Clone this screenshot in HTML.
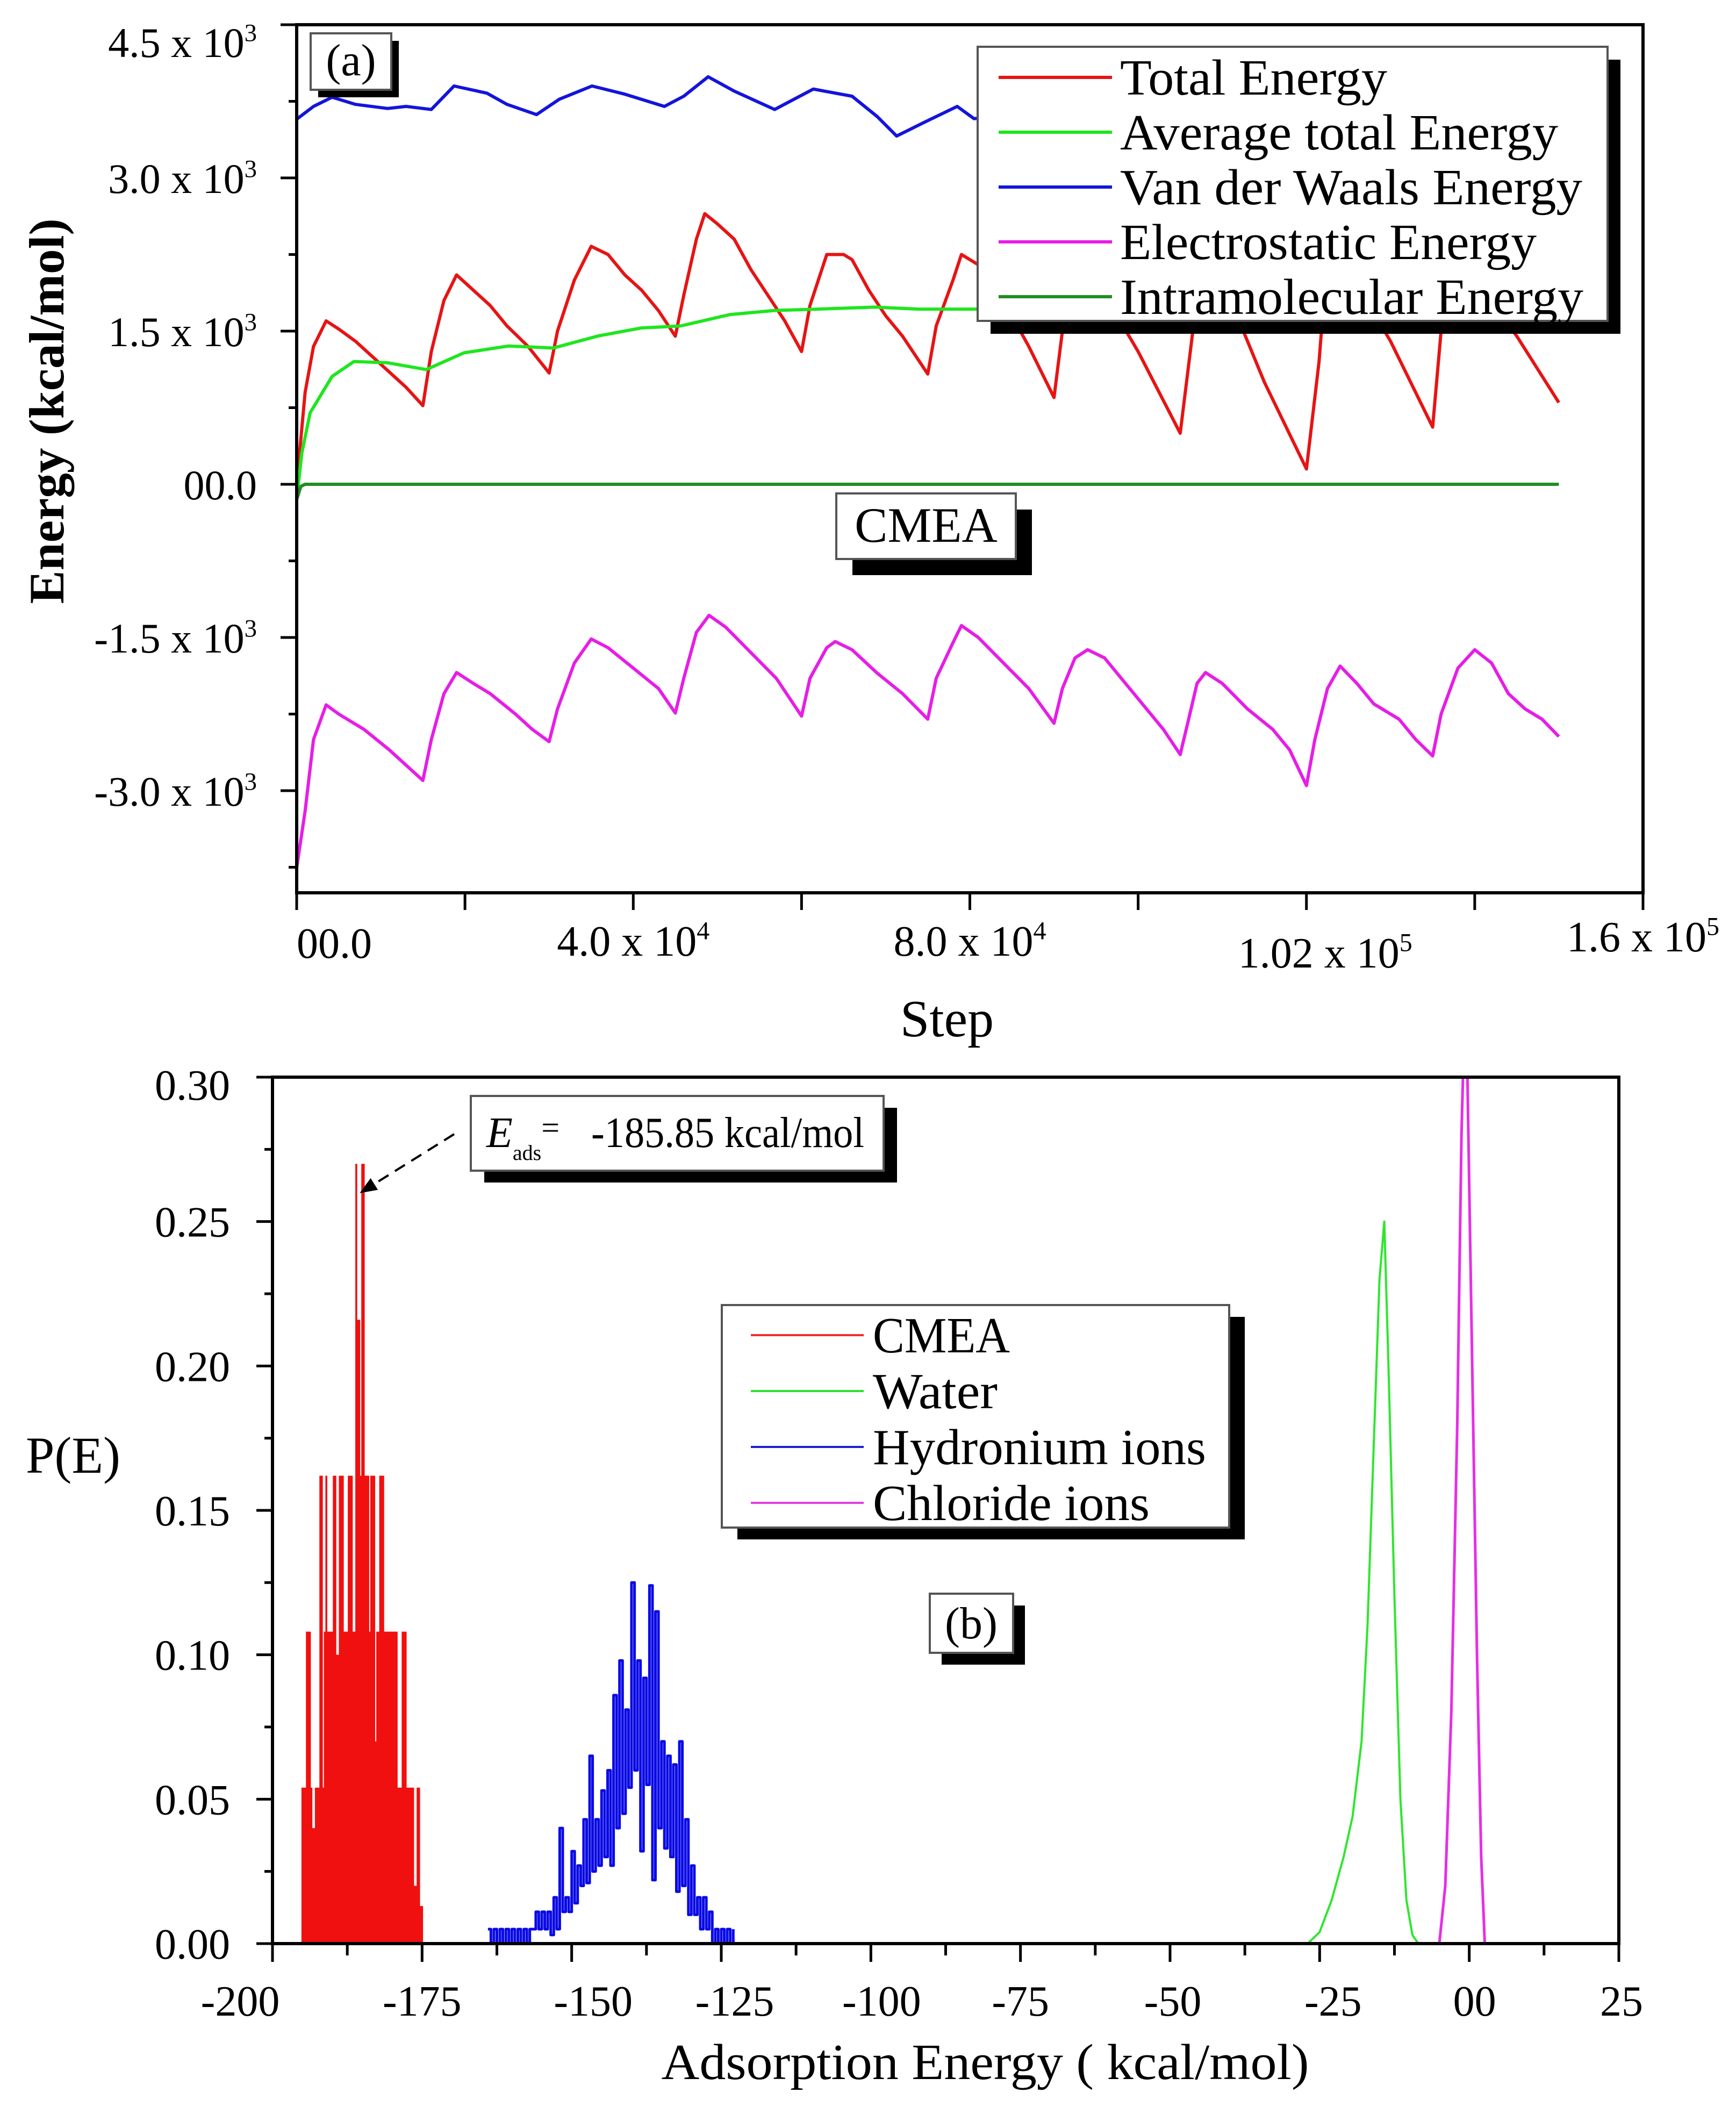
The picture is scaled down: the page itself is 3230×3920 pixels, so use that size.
<!DOCTYPE html>
<html><head><meta charset="utf-8"><style>html,body{margin:0;padding:0;background:#fff}svg{display:block}text{font-family:"Liberation Serif",serif;fill:#000}</style></head>
<body>
<svg id="fig" width="3230" height="3920" viewBox="0 0 3230 3920" xmlns="http://www.w3.org/2000/svg">
<defs>
<clipPath id="clipA"><rect x="552" y="46" width="2505" height="1615"/></clipPath>
<clipPath id="clipB"><rect x="507" y="2004" width="2505" height="1612"/></clipPath>
<marker id="arrowhead" viewBox="0 0 10 10" refX="9" refY="5" markerWidth="8" markerHeight="8" orient="auto"><path d="M0,1 L10,5 L0,9 z" fill="#000"/></marker>
</defs>
<g id="panelA"></g>
<g id="panelB"></g>
</svg>
<script>
// ---------- Panel (a) data (steps in thousands, energy in kcal/mol) ----------
const totalSteps = [0,1,2,3.5,5,7,9,11,13,15,16,17.5,19,21,23,25,27.5,30,31,33,35,37,39,41,43,45,46,47.5,48.5,50,52,54,56,58,60,61,63,65,66,68,70,72,75,76,78,79,81,83,85,87,90,91,92.5,95,100,105,106.5,107.5,110,115,120,121.5,122.5,125,130,135,136,137,140,145,150];
const totalValues = [0,900,1350,1600,1520,1400,1250,1100,950,770,1300,1800,2050,1900,1750,1550,1350,1090,1500,2000,2330,2250,2050,1900,1700,1450,1850,2400,2650,2550,2400,2100,1850,1600,1300,1750,2250,2250,2200,1900,1650,1450,1080,1550,2000,2250,2150,1900,1650,1350,850,1500,2250,2000,1300,500,1500,2300,2000,1000,150,1200,2250,2100,1400,560,1500,2200,2000,1450,800];
const avgSteps = [0,0.6,1.6,4.2,6.8,10.8,15.4,19.9,25.2,30.5,35.8,41,45.6,51.5,56.8,62,68.7,73.9,80.5,95];
const avgValues = [-150,300,700,1056,1202,1190,1123,1288,1354,1334,1452,1531,1550,1662,1702,1715,1735,1715,1715,1720];
const vdwSteps = [0,2,4.2,7,10.8,13,16,18.7,22.6,25,28.5,31.2,35.1,39,43.7,46,48.9,52,56.8,61.4,66,69,71.3,74.6,78.5,80.5,90,110,130,150];
const vdwValues = [3575,3700,3790,3720,3680,3700,3670,3900,3830,3720,3620,3770,3900,3820,3700,3800,3990,3850,3670,3870,3800,3600,3410,3545,3700,3580,3650,3700,3650,3700];
const elecSteps = [0,1,2,3.5,5,8,11,13,15,16,17.5,19,21,23,26,28,30,31,33,35,37,40,43,45,46,47.5,49,51,54,57,60,61,63,64,66,69,72,75,76,78,79,81,84,87,90,91,92.5,94,96,100,103,105,106,107,108,110,113,116,118,120,121,122.5,124,126,128,131,133,135,136,138,140,142,144,146,148,150];
const elecValues = [-3755,-3200,-2500,-2160,-2250,-2400,-2600,-2750,-2900,-2500,-2050,-1843,-1950,-2050,-2250,-2400,-2520,-2200,-1750,-1515,-1600,-1800,-2000,-2240,-1900,-1450,-1283,-1400,-1650,-1900,-2270,-1900,-1600,-1540,-1620,-1850,-2050,-2300,-1900,-1550,-1383,-1500,-1750,-2000,-2340,-2000,-1700,-1620,-1700,-2100,-2400,-2646,-2300,-1950,-1843,-1950,-2200,-2400,-2600,-2950,-2500,-2000,-1780,-1950,-2150,-2300,-2500,-2660,-2250,-1800,-1620,-1750,-2050,-2200,-2300,-2470];
const intraSteps = [0,0.5,1,150];
const intraValues = [-150,-20,0,0];
const aYTicks = [4500,3000,1500,0,-1500,-3000];
const aYTickLabels = [["4.5 x 10","3"],["3.0 x 10","3"],["1.5 x 10","3"],["00.0",""],["-1.5 x 10","3"],["-3.0 x 10","3"]];
const aXTicks = [0,40,80,120,160];
const aXTickLabels = [["00.0",""],["4.0 x 10","4"],["8.0 x 10","4"],["1.02 x 10","5"],["1.6 x 10","5"]];

// ---------- Panel (b) data ----------
const cmeaStart = -195, cmeaStep = 0.25;
const cmeaValues = [.054,.054,.054,.108,.108,.108,.054,.04,.04,.054,.054,.054,.162,.162,.054,.108,.162,.108,.108,.108,.108,.162,.162,.1,.1,.162,.162,.162,.108,.108,.108,.162,.162,.162,.108,.108,.27,.216,.216,.162,.27,.27,.162,.162,.162,.108,.162,.162,.162,.07,.108,.108,.162,.162,.162,.108,.108,.108,.108,.108,.108,.108,.108,.108,.054,.054,.054,.108,.108,.108,.054,.054,.054,.054,.054,.02,.02,.054,.054,.013,.013];
const hydroStart = -164, hydroStep = 0.5;
const hydroValues = [.005,0,.005,0,.005,0,.005,0,.005,0,.005,0,.005,0,.005,.005,.011,.005,.011,.005,.011,.003,.016,.005,.04,.011,.016,.011,.032,.014,.027,.02,.043,.021,.065,.025,.043,.027,.053,.03,.06,.027,.086,.04,.098,.045,.081,.054,.125,.06,.098,.032,.092,.055,.124,.022,.115,.04,.07,.033,.065,.03,.062,.018,.07,.02,.043,.01,.027,.01,.016,.005,.016,.005,.011,0,.005,0,.005,0,.005,0,.005];
const waterX = [-27,-25,-23,-21,-19.5,-18,-17,-16,-15,-14.2,-13.5,-12.5,-11.5,-10.5,-9.5,-8.5];
const waterY = [0,.004,.015,.03,.044,.07,.11,.17,.23,.25,.2,.12,.05,.015,.003,0];
const chlorX = [-5,-4,-3,-2,-1.3,-0.8,-0.3,0.5,1.3,2,2.6];
const chlorY = [0,.02,.08,.18,.28,.32,.30,.2,.1,.03,0];
const bYTicks = [0,0.05,0.1,0.15,0.2,0.25,0.3];
const bYTickLabels = ["0.00","0.05","0.10","0.15","0.20","0.25","0.30"];
const bXTicks = [-200,-175,-150,-125,-100,-75,-50,-25,0,25];
const bXTickLabels = ["-200","-175","-150","-125","-100","-75","-50","-25","00","25"];

const NS = "http://www.w3.org/2000/svg";
function mk(parent, tag, attrs, text) {
  const e = document.createElementNS(NS, tag);
  for (const k in attrs) e.setAttribute(k, attrs[k]);
  if (text !== undefined) e.textContent = text;
  parent.appendChild(e);
  return e;
}
const xA = s => 552 + s / 160 * 2505;
const yA = v => 46 + (4500 - v) / 8500 * 1615;
const xB = e => 507 + (e + 200) / 225 * 2505;
const yB = p => 3616 - p / 0.3 * 1612;

const A = document.getElementById('panelA');
const B = document.getElementById('panelB');

function polyline(parent, xs, ys, fx, fy, color, w, name, clip) {
  const pts = xs.map((x, i) => fx(x).toFixed(1) + ',' + fy(ys[i]).toFixed(1)).join(' ');
  const p = mk(parent, 'polyline', {points: pts, fill: 'none', stroke: color, 'stroke-width': w, 'stroke-linejoin': 'round', 'clip-path': 'url(#' + clip + ')'});
  
  
  return p;
}
function supText(parent, x, y, anchor, parts, size, name) {
  const t = mk(parent, 'text', {x: x, y: y, 'text-anchor': anchor, 'font-size': size});
  
  
  mk(t, 'tspan', {}, parts[0]);
  if (parts[1]) mk(t, 'tspan', {dy: -size * 0.38, 'font-size': size * 0.6}, parts[1]);
  return t;
}
function boxWithShadow(parent, x, y, w, h, dx, dy, name) {
  const g = mk(parent, 'g', {});
  
  
  mk(g, 'rect', {x: x + dx, y: y + dy, width: w, height: h, fill: '#000'});
  mk(g, 'rect', {x: x, y: y, width: w, height: h, fill: '#fff', stroke: '#555', 'stroke-width': 4});
  return g;
}

// ================= Panel (a) =================
polyline(A, vdwSteps, vdwValues, xA, yA, '#1414dc', 6, 'vdw-energy-line', 'clipA');
polyline(A, elecSteps, elecValues, xA, yA, '#e61ee6', 6, 'electrostatic-energy-line', 'clipA');
polyline(A, totalSteps, totalValues, xA, yA, '#e61414', 6, 'total-energy-line', 'clipA');
polyline(A, avgSteps, avgValues, xA, yA, '#1ee61e', 6, 'average-total-energy-line', 'clipA');
polyline(A, intraSteps, intraValues, xA, yA, '#238c23', 6, 'intramolecular-energy-line', 'clipA');
const frA = mk(A, 'rect', {x: 552, y: 46, width: 2505, height: 1615, fill: 'none', stroke: '#000', 'stroke-width': 6});


for (let v = -3750; v <= 4500; v += 750) {
  const major = (v % 1500 === 0);
  mk(A, 'line', {x1: 552, x2: major ? 522 : 537, y1: yA(v), y2: yA(v), stroke: '#000', 'stroke-width': 5});
}
aYTicks.forEach((v, i) => {
  let y = yA(v) + 28;
  if (i === 0) y = 106;
  supText(A, 478, y, 'end', aYTickLabels[i], 78, 'y-tick-label');
});
for (let s = 0; s <= 160; s += 20) {
  mk(A, 'line', {x1: xA(s), x2: xA(s), y1: 1661, y2: 1693, stroke: '#000', 'stroke-width': 5});
}
const aXLabelY = [1782, 1778, 1778, 1800, 1770];
const aXLabelDx = [70, 0, 0, 35, 0];
aXTicks.forEach((s, i) => {
  supText(A, xA(s) + aXLabelDx[i], aXLabelY[i], 'middle', aXTickLabels[i], 80, 'x-tick-label');
});
const yTitle = mk(A, 'text', {x: 0, y: 0, transform: 'translate(118,765) rotate(-90)', 'text-anchor': 'middle', 'font-size': 92, 'font-weight': 'bold', textLength: 717, lengthAdjust: 'spacingAndGlyphs'}, 'Energy (kcal/mol)');


const xTitle = mk(A, 'text', {x: 1762, y: 1928, 'text-anchor': 'middle', 'font-size': 98}, 'Step');


boxWithShadow(A, 578, 62, 150, 105, 14, 14, 'panel-a-label-box');
const la = mk(A, 'text', {x: 653, y: 140, 'text-anchor': 'middle', 'font-size': 84}, '(a)');


boxWithShadow(A, 1556, 918, 334, 122, 30, 30, 'cmea-label-box');
const lc = mk(A, 'text', {x: 1723, y: 1008, 'text-anchor': 'middle', 'font-size': 92}, 'CMEA');


const legA = mk(A, 'g', {});


boxWithShadow(legA, 1819, 87, 1172, 510, 24, 24, 'legend-a-box');
const legANames = ['Total Energy', 'Average total Energy', 'Van der Waals Energy', 'Electrostatic Energy', 'Intramolecular Energy'];
const legAColors = ['#e61414', '#1ee61e', '#1414dc', '#e61ee6', '#238c23'];
const legALen = [497, 815, 860, 775, 862];
legANames.forEach((n, i) => {
  const cy = 144 + i * 102;
  const g = mk(legA, 'g', {});
  
  
  mk(g, 'line', {x1: 1858, x2: 2069, y1: cy, y2: cy, stroke: legAColors[i], 'stroke-width': 6});
  mk(g, 'text', {x: 2084, y: cy + 32, 'font-size': 94, textLength: legALen[i], lengthAdjust: 'spacingAndGlyphs'}, n);
});

// ================= Panel (b) =================
cmeaValues.forEach((v, i) => {
  const e = cmeaStart + i * cmeaStep;
  const l = mk(B, 'line', {x1: xB(e), x2: xB(e), y1: yB(0), y2: yB(v), stroke: '#f01010', 'stroke-width': 3.6, 'clip-path': 'url(#clipB)'});
  
  
});
(function () {
  const xs = [], ys = [];
  hydroValues.forEach((v, i) => {
    const e = hydroStart + i * hydroStep;
    if (i > 0) { xs.push(e); ys.push(hydroValues[i - 1]); }
    xs.push(e); ys.push(v);
  });
  polyline(B, xs, ys, xB, yB, '#0a0ae6', 5, 'hydronium-ions-line', 'clipB');
})();
polyline(B, waterX, waterY, xB, yB, '#2ee62e', 4, 'water-line', 'clipB');
polyline(B, chlorX, chlorY, xB, yB, '#e62ee6', 5, 'chloride-ions-line', 'clipB');
const frB = mk(B, 'rect', {x: 507, y: 2004, width: 2505, height: 1612, fill: 'none', stroke: '#000', 'stroke-width': 6});


for (let p = 0; p <= 0.3001; p += 0.025) {
  const major = Math.abs(p / 0.05 - Math.round(p / 0.05)) < 1e-6;
  mk(B, 'line', {x1: 507, x2: major ? 477 : 492, y1: yB(p), y2: yB(p), stroke: '#000', 'stroke-width': 5});
}
bYTicks.forEach((p, i) => {
  const t = mk(B, 'text', {x: 428, y: yB(p) + 28 + (i === 6 ? 14 : 0), 'text-anchor': 'end', 'font-size': 80}, bYTickLabels[i]);
  
  
});
for (let e = -200; e <= 25; e += 12.5) {
  const major = (e % 25 === 0);
  mk(B, 'line', {x1: xB(e), x2: xB(e), y1: 3616, y2: major ? 3650 : 3638, stroke: '#000', 'stroke-width': 5});
}
const bXLabelDx = [-60, 0, 40, 25, 20, 0, 5, 25, 10, 5];
bXTicks.forEach((e, i) => {
  const t = mk(B, 'text', {x: xB(e) + bXLabelDx[i], y: 3750, 'text-anchor': 'middle', 'font-size': 80}, bXTickLabels[i]);
  
  
});
const pe = mk(B, 'text', {x: 136, y: 2740, 'text-anchor': 'middle', 'font-size': 96}, 'P(E)');


const xtB = mk(B, 'text', {x: 1833, y: 3868, 'text-anchor': 'middle', 'font-size': 94, textLength: 1205, lengthAdjust: 'spacingAndGlyphs'}, 'Adsorption Energy ( kcal/mol)');


boxWithShadow(B, 876, 2039, 768, 139, 25, 22, 'annotation-box');
const ann = mk(B, 'text', {x: 905, y: 2134, 'font-size': 80});


mk(ann, 'tspan', {'font-style': 'italic'}, 'E');
mk(ann, 'tspan', {dy: 24, 'font-size': 40}, 'ads');
mk(ann, 'tspan', {dy: -40, 'font-size': 60}, '=');
mk(ann, 'tspan', {dy: 16, x: 1100, textLength: 508, lengthAdjust: 'spacingAndGlyphs'}, '-185.85 kcal/mol');
const arr = mk(B, 'line', {x1: 845, y1: 2110, x2: 672, y2: 2218, stroke: '#000', 'stroke-width': 4, 'stroke-dasharray': '22,14', 'marker-end': 'url(#arrowhead)'});


boxWithShadow(B, 1730, 2965, 155, 110, 22, 22, 'panel-b-label-box');
const lb = mk(B, 'text', {x: 1807, y: 3048, 'text-anchor': 'middle', 'font-size': 84}, '(b)');


const legB = mk(B, 'g', {});


boxWithShadow(legB, 1343, 2428, 944, 414, 29, 22, 'legend-b-box');
const legBNames = ['CMEA', 'Water', 'Hydronium ions', 'Chloride ions'];
const legBColors = ['#f03030', '#30e030', '#2020d0', '#e040e0'];
const legBLen = [255, 232, 620, 515];
legBNames.forEach((n, i) => {
  const cy = 2484 + i * 104;
  const g = mk(legB, 'g', {});
  
  
  mk(g, 'line', {x1: 1397, x2: 1607, y1: cy, y2: cy, stroke: legBColors[i], 'stroke-width': 4});
  mk(g, 'text', {x: 1624, y: cy + 32, 'font-size': 94, textLength: legBLen[i], lengthAdjust: 'spacingAndGlyphs'}, n);
});
</script>
</body></html>
